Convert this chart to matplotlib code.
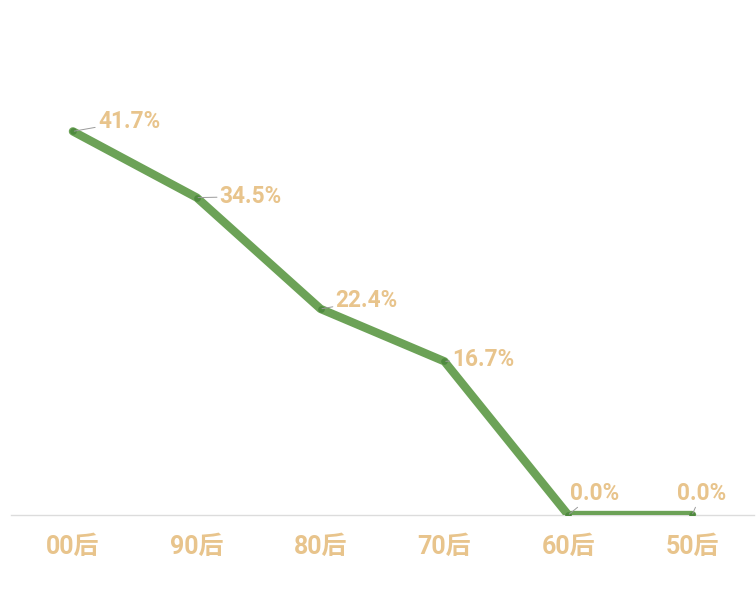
import matplotlib
matplotlib.use("Agg")
import matplotlib.pyplot as plt

categories = ["00后", "90后", "80后", "70后", "60后", "50后"]
values = [41.7, 34.5, 22.4, 16.7, 0.0, 0.0]
labels = ["41.7%", "34.5%", "22.4%", "16.7%", "0.0%", "0.0%"]

# label offsets in pixels (dx right, dy up) — style only
offsets_px = [(25, 10), (23, 1), (15, 8), (8, 2), (2, 22), (-15, 22)]

TAN = "#E8C48C"
GREEN = "#6CA257"
DOT = "#4F8A3F"

FAM = ["Roboto", "Noto Sans CJK SC", "DejaVu Sans"]
plt.rcParams["font.family"] = FAM

fig = plt.figure(figsize=(7.56, 5.94), dpi=100)
ax = fig.add_axes([11 / 756, 79 / 594, 743 / 756, 460 / 594])

x = list(range(len(categories)))
ax.plot(x, values, color=GREEN, lw=6, solid_capstyle="round",
        solid_joinstyle="round", zorder=3)
ax.scatter(x, values, s=14, color=DOT, zorder=4)

ax.set_xlim(-0.5, len(categories) - 0.5)
ax.set_ylim(0, 50)

for xi, v, lab, (dx, dy) in zip(x, values, labels, offsets_px):
    ax.annotate(lab, xy=(xi, v), xytext=(dx * 0.72, dy * 0.72),
                textcoords="offset points", ha="left", va="center",
                fontsize=16.3, color=TAN, fontweight="bold",
                arrowprops=dict(arrowstyle="-", color="#9a9a9a", lw=0.7,
                                shrinkA=0, shrinkB=1),
                zorder=5, annotation_clip=False)

for s in ["top", "right", "left"]:
    ax.spines[s].set_visible(False)
ax.spines["bottom"].set_color("#DCDCDC")
ax.spines["bottom"].set_linewidth(1)
ax.set_yticks([])
ax.set_xticks(x)
ax.set_xticklabels(categories, fontsize=18, color=TAN, fontweight="bold")
ax.tick_params(axis="x", length=0, pad=14)

fig.savefig("out.png", dpi=100)
